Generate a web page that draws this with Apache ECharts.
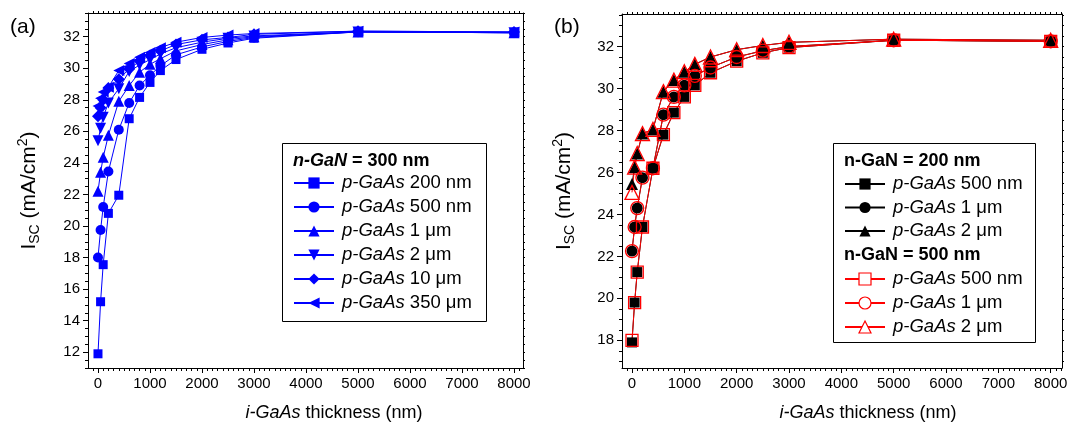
<!DOCTYPE html>
<html><head><meta charset="utf-8">
<script src="https://cdn.jsdelivr.net/npm/echarts@6/dist/echarts.min.js"></script>
<style>html,body{margin:0;padding:0;background:#fff}#c{width:1072px;height:434px}</style>
</head><body><div id="c"></div>
<script>
// ---------- data ----------
const thickness = [0, 50, 100, 200, 400, 600, 800, 1000, 1200, 1500, 2000, 2500, 3000, 5000, 8000];

// panel (a): n-GaN = 300 nm
const a_p200nm = [11.9, 15.2, 17.55, 20.8, 21.95, 26.8, 28.15, 29.1, 29.85, 30.55, 31.2, 31.6, 31.9, 32.3, 32.25];
const a_p500nm = [18.0, 19.75, 21.2, 23.45, 26.1, 27.8, 28.9, 29.55, 30.15, 30.85, 31.35, 31.7, 31.95, 32.3, 32.25];
const a_p1um   = [22.2, 23.4, 24.35, 25.75, 27.9, 28.9, 29.75, 30.25, 30.6, 31.1, 31.5, 31.8, 32.0, 32.3, 32.25];
const a_p2um   = [25.4, 26.2, 26.9, 27.8, 28.7, 29.8, 30.2, 30.55, 30.9, 31.3, 31.65, 31.9, 32.05, 32.3, 32.25];
const a_p10um  = [26.95, 27.5, 28.0, 28.75, 29.3, 29.95, 30.45, 30.8, 31.1, 31.5, 31.8, 31.95, 32.15, 32.35, 32.3];
const a_p350um = [27.6, 28.1, 28.5, 28.8, 29.85, 30.3, 30.7, 31.0, 31.3, 31.65, 31.95, 32.1, 32.2, 32.35, 32.3];

// panel (b): n-GaN = 200 nm (black) and 500 nm (red)
const b200_p500nm = [17.9, 19.8, 21.25, 23.4, 26.2, 27.8, 28.85, 29.6, 30.15, 30.75, 31.3, 31.7, 31.95, 32.3, 32.25];
const b200_p1um   = [22.25, 23.4, 24.3, 25.75, 26.2, 28.75, 29.6, 30.15, 30.6, 31.0, 31.5, 31.8, 32.0, 32.3, 32.25];
const b200_p2um   = [25.45, 26.25, 26.9, 27.85, 28.05, 29.85, 30.4, 30.8, 31.15, 31.5, 31.85, 32.05, 32.2, 32.35, 32.3];
const b500_p500nm = [18.0, 19.8, 21.25, 23.4, 26.2, 27.8, 28.85, 29.6, 30.15, 30.75, 31.3, 31.7, 31.95, 32.3, 32.25];
const b500_p1um   = [22.25, 23.4, 24.3, 25.75, 26.2, 28.75, 29.6, 30.15, 30.6, 31.0, 31.5, 31.8, 32.0, 32.3, 32.25];
const b500_p2um   = [25.05, 26.25, 26.9, 27.85, 28.05, 29.85, 30.4, 30.8, 31.15, 31.5, 31.85, 32.05, 32.2, 32.35, 32.3];

// tick labels
const xTickLabels = [0, 1000, 2000, 3000, 4000, 5000, 6000, 7000, 8000];
const yTickLabelsA = [12, 14, 16, 18, 20, 22, 24, 26, 28, 30, 32];
const yTickLabelsB = [18, 20, 22, 24, 26, 28, 30, 32];

// legend labels
const legendA = ['200 nm', '500 nm', '1 μm', '2 μm', '10 μm', '350 μm'];
const legendB = ['500 nm', '1 μm', '2 μm'];

// ---------- chart ----------
const FONT = '"Liberation Sans", Arial, Helvetica, sans-serif';
function range(a, b, step) { const r = []; for (let v = a; v <= b + 1e-9; v += step) r.push(Math.round(v * 1000) / 1000); return r; }
const BLACK = '#000';

function xAxesFor(gi, min, max) {
  const all = range(Math.ceil(min / 100) * 100, max, 100);
  const minor = all.filter(v => v % 1000 !== 0);
  const base = { type: 'value', gridIndex: gi, min: min, max: max, splitLine: { show: false } };
  return [
    Object.assign({}, base, { position: 'bottom', axisLine: { show: true, onZero: false, lineStyle: { color: BLACK, width: 1 } },
      axisTick: { show: true, customValues: xTickLabels, length: 5, lineStyle: { color: BLACK } },
      axisLabel: { show: true, customValues: xTickLabels, formatter: v => String(v), color: BLACK, fontSize: 15, fontFamily: FONT, margin: 8 } }),
    Object.assign({}, base, { position: 'bottom', axisLine: { show: false, onZero: false },
      axisTick: { show: true, customValues: minor, length: 3, lineStyle: { color: BLACK } }, axisLabel: { show: false } }),
    Object.assign({}, base, { position: 'top', axisLine: { show: true, onZero: false, lineStyle: { color: BLACK, width: 1 } },
      axisTick: { show: true, customValues: all, length: 2, lineStyle: { color: BLACK } }, axisLabel: { show: false } })
  ];
}
function yAxesFor(gi, min, max, labels, nameGap) {
  const all = range(Math.ceil(min / 0.5) * 0.5, max, 0.5);
  const minor = all.filter(v => labels.indexOf(v) < 0);
  const base = { type: 'value', gridIndex: gi, min: min, max: max, splitLine: { show: false } };
  return [
    Object.assign({}, base, { position: 'left', axisLine: { show: true, onZero: false, lineStyle: { color: BLACK, width: 1 } },
      axisTick: { show: true, customValues: labels, length: 5, lineStyle: { color: BLACK } },
      axisLabel: { show: true, customValues: labels, formatter: v => String(v), color: BLACK, fontSize: 15, fontFamily: FONT, margin: 8 },
      name: '{b|I}{s|SC}{b| (mA/cm}{p|2}{b|)}', nameLocation: 'middle', nameRotate: 90, nameGap: nameGap,
      nameTextStyle: { color: BLACK, fontFamily: FONT, fontSize: 21, rich: {
        b: { fontSize: 21, fontFamily: FONT, color: BLACK, lineHeight: 26 },
        s: { fontSize: 14, fontFamily: FONT, color: BLACK, lineHeight: 14, verticalAlign: 'bottom' },
        p: { fontSize: 14, fontFamily: FONT, color: BLACK, lineHeight: 10, verticalAlign: 'top' } } } }),
    Object.assign({}, base, { position: 'left', axisLine: { show: false, onZero: false },
      axisTick: { show: true, customValues: minor, length: 3, lineStyle: { color: BLACK } }, axisLabel: { show: false } }),
    Object.assign({}, base, { position: 'right', axisLine: { show: true, onZero: false, lineStyle: { color: BLACK, width: 1 } },
      axisTick: { show: true, customValues: all, length: 2, lineStyle: { color: BLACK } }, axisLabel: { show: false } })
  ];
}

function pts(vals) { return thickness.map((x, i) => [x, vals[i]]); }
const BLUE = '#0000ff', RED = '#ff0000';
function blueSeries(name, vals, symbol, rot, size) {
  return { type: 'line', name: name, xAxisIndex: 0, yAxisIndex: 0, data: pts(vals), symbol: symbol, symbolRotate: rot, symbolSize: size,
    itemStyle: { color: BLUE }, lineStyle: { color: BLUE, width: 1 }, animation: false, silent: true };
}
function blackSeries(name, vals, symbol, size) {
  return { type: 'line', name: name, xAxisIndex: 3, yAxisIndex: 3, data: pts(vals), symbol: symbol, symbolSize: size,
    itemStyle: { color: BLACK }, lineStyle: { color: BLACK, width: 1 }, animation: false, silent: true };
}
function redSeries(name, vals, symbol, size) {
  return { type: 'line', name: name, xAxisIndex: 3, yAxisIndex: 3, data: pts(vals), symbol: symbol, symbolSize: size,
    itemStyle: { color: 'rgba(255,255,255,0)', borderColor: RED, borderWidth: 1.3 }, lineStyle: { color: RED, width: 1 }, animation: false, silent: true };
}

const namesA = ['a0', 'a1', 'a2', 'a3', 'a4', 'a5'];
const namesB1 = ['k0', 'k1', 'k2'];
const namesB2 = ['r0', 'r1', 'r2'];
const labelOf = {};
namesA.forEach((n, i) => labelOf[n] = legendA[i]);
namesB1.forEach((n, i) => labelOf[n] = legendB[i]);
namesB2.forEach((n, i) => labelOf[n] = legendB[i]);

const LF = 18.5;
const legendText = { color: BLACK, fontFamily: FONT, fontSize: LF, lineHeight: 20,
  rich: { i: { fontStyle: 'italic', fontFamily: FONT, fontSize: LF, lineHeight: 20, color: BLACK, padding: [0, 0, 0, 3] },
          n: { fontFamily: FONT, fontSize: LF, lineHeight: 20, color: BLACK } } };
function legendFmt(n) { return '{i|p-GaAs} {n|' + labelOf[n] + '}'; }

const option = {
  backgroundColor: '#fff',
  animation: false,
  grid: [
    { left: 88, top: 13, width: 435, height: 355 },
    { left: 622, top: 14, width: 440, height: 354 }
  ],
  xAxis: xAxesFor(0, -192, 8173).concat(xAxesFor(1, -191, 8216)),
  yAxis: yAxesFor(0, 11, 33.5, yTickLabelsA, 46).concat(yAxesFor(1, 16.68, 33.55, yTickLabelsB, 45)),
  legend: [
    { orient: 'vertical', left: 293, top: 173, padding: 0, itemGap: 4, itemWidth: 40, itemHeight: 14,
      data: namesA, formatter: legendFmt, textStyle: legendText, selectedMode: false },
    { orient: 'vertical', left: 844, top: 174, padding: 0, itemGap: 3.5, itemWidth: 40, itemHeight: 14,
      data: namesB1, formatter: legendFmt, textStyle: legendText, selectedMode: false },
    { orient: 'vertical', left: 844, top: 269, padding: 0, itemGap: 4, itemWidth: 40, itemHeight: 15,
      data: namesB2, formatter: legendFmt, textStyle: legendText, selectedMode: false,
      itemStyle: { color: '#fff', borderColor: RED, borderWidth: 1.2 } }
  ],
  series: [
    blueSeries('a0', a_p200nm, 'rect', 0, 9),
    blueSeries('a1', a_p500nm, 'circle', 0, 10),
    blueSeries('a2', a_p1um, 'triangle', 0, 11),
    blueSeries('a3', a_p2um, 'triangle', 180, 11),
    blueSeries('a4', a_p10um, 'diamond', 0, 12),
    blueSeries('a5', a_p350um, 'triangle', 90, 11),
    blackSeries('k0', b200_p500nm, 'rect', 10),
    blackSeries('k1', b200_p1um, 'circle', 11),
    blackSeries('k2', b200_p2um, 'triangle', 12),
    redSeries('r0', b500_p500nm, 'rect', 12),
    redSeries('r1', b500_p1um, 'circle', 13),
    redSeries('r2', b500_p2um, 'triangle', 14)
  ],
  graphic: [
    { type: 'text', x: 10, y: 27, style: { text: '(a)', fontSize: 21, fontFamily: FONT, fill: BLACK, verticalAlign: 'middle' } },
    { type: 'text', x: 554, y: 27, style: { text: '(b)', fontSize: 21, fontFamily: FONT, fill: BLACK, verticalAlign: 'middle' } },
    { type: 'text', x: 334, y: 413, style: { text: '{i|i-GaAs} thickness (nm)', align: 'center', verticalAlign: 'middle', fontSize: 18, fontFamily: FONT, fill: BLACK,
      rich: { i: { fontStyle: 'italic', fontSize: 18, fontFamily: FONT, fill: BLACK } } } },
    { type: 'text', x: 868, y: 413, style: { text: '{i|i-GaAs} thickness (nm)', align: 'center', verticalAlign: 'middle', fontSize: 18, fontFamily: FONT, fill: BLACK,
      rich: { i: { fontStyle: 'italic', fontSize: 18, fontFamily: FONT, fill: BLACK } } } },
    { type: 'rect', shape: { x: 282.5, y: 143.5, width: 204, height: 178 }, style: { fill: 'rgba(0,0,0,0)', stroke: BLACK, lineWidth: 1 }, z: 10 },
    { type: 'rect', shape: { x: 833.5, y: 143.5, width: 202, height: 199 }, style: { fill: 'rgba(0,0,0,0)', stroke: BLACK, lineWidth: 1 }, z: 10 },
    { type: 'text', x: 293, y: 161, style: { text: '{bi|n-GaN} = 300 nm', verticalAlign: 'middle', fontSize: 18, fontWeight: 'bold', fontFamily: FONT, fill: BLACK,
      rich: { bi: { fontStyle: 'italic', fontWeight: 'bold', fontSize: 18, fontFamily: FONT, fill: BLACK } } }, z: 10 },
    { type: 'text', x: 844, y: 161, style: { text: 'n-GaN = 200 nm', verticalAlign: 'middle', fontSize: 18, fontWeight: 'bold', fontFamily: FONT, fill: BLACK }, z: 10 },
    { type: 'text', x: 844, y: 255, style: { text: 'n-GaN = 500 nm', verticalAlign: 'middle', fontSize: 18, fontWeight: 'bold', fontFamily: FONT, fill: BLACK }, z: 10 }
  ]
};
const chart = echarts.init(document.getElementById('c'), null, { renderer: 'canvas' });
chart.setOption(option);
</script>
</body></html>
